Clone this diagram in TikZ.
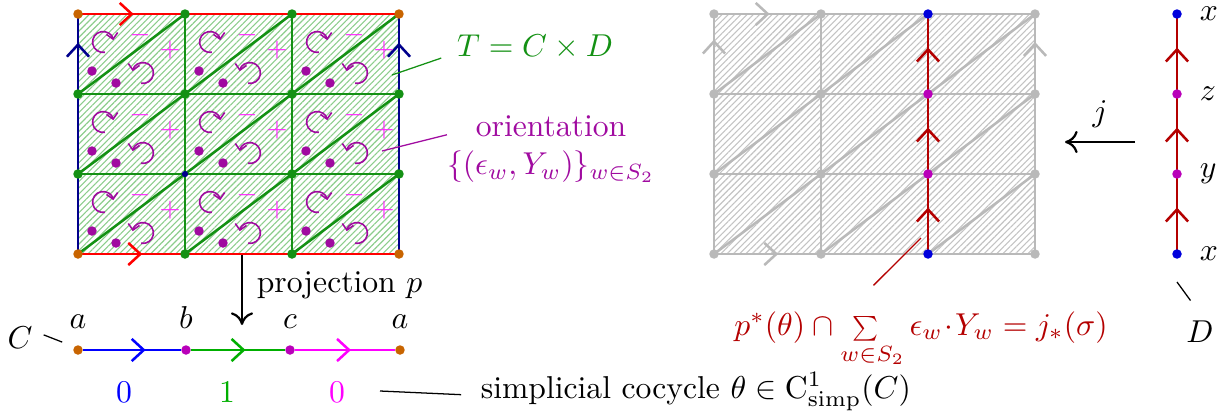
\documentclass[tikz,border=0pt]{standalone}
\usepackage{amsmath,amssymb}
\usetikzlibrary{arrows.meta,positioning,patterns.meta,decorations.markings}

\definecolor{vorange}{RGB}{200,100,0}
\definecolor{tgreen}{RGB}{20,145,20}
\definecolor{hatchgreen}{RGB}{140,205,140}
\definecolor{hatchgray}{RGB}{195,195,195}
\definecolor{navyb}{RGB}{0,0,140}
\definecolor{orient}{RGB}{160,10,160}
\definecolor{pm}{RGB}{255,40,255}
\definecolor{jred}{RGB}{180,0,0}
\definecolor{lgray}{RGB}{185,185,185}
\definecolor{dblue}{RGB}{0,0,220}
\definecolor{dpurple}{RGB}{185,0,185}
\definecolor{segblue}{RGB}{0,0,255}
\definecolor{seggreen}{RGB}{0,175,0}
\definecolor{segmag}{RGB}{255,0,255}

\tikzset{
  vtx/.style={circle,fill=#1,inner sep=0pt,minimum size=3pt},
  gline/.style={draw=#1,line width=0.8pt},
  barb/.style={postaction={decorate},decoration={markings,mark=at position #1 with {\arrow{Straight Barb[length=3.8pt,width=7pt]}}}},
  barb/.default=0.6,
  turn/.style={draw=orient,line width=0.5pt,-{Straight Barb[length=1.8pt,width=3.6pt]}},
  pmsign/.style={text=pm,font=\footnotesize,inner sep=0pt},
  leader/.style={line width=0.4pt},
  hatch/.style={pattern={Lines[angle=45,distance=1.4pt,line width=0.35pt]},pattern color=#1}
}

\begin{document}
\begin{tikzpicture}[x=0.316pt,y=0.316pt]
\useasboundingbox (0,0) rectangle (1225,417);

% grid points of T and of its image
\foreach \i in {0,...,3}
  \foreach \j in {0,...,3} {
    \coordinate (L-\i-\j) at ({78+107*\i},{403-80*\j});
    \coordinate (R-\i-\j) at ({714+107*\i},{403-80*\j});
  }
\foreach \j in {0,...,3}
  \coordinate (D-\j) at (1177,{403-80*\j});

\fill[hatch=hatchgreen] (L-0-3) rectangle (L-3-0);
\fill[hatch=hatchgray] (R-0-3) rectangle (R-3-0);

% diagonals of both tori
\foreach \i in {0,1,2}
  \foreach \j in {0,1,2} {
    \pgfmathtruncatemacro\ni{\i+1}
    \pgfmathtruncatemacro\nj{\j+1}
    \draw[gline=tgreen] (L-\i-\nj) -- (L-\ni-\j);
    \draw[gline=lgray] (R-\i-\nj) -- (R-\ni-\j);
  }

% left torus
\foreach \k in {1,2} {
  \draw[gline=tgreen] (L-\k-0) -- (L-\k-3);
  \draw[gline=tgreen] (L-0-\k) -- (L-3-\k);
}
\draw[gline=red,barb=0.52] (L-0-0) -- (L-1-0);
\draw[gline=red] (L-1-0) -- (L-3-0);
\draw[gline=red,barb=0.6] (L-0-3) -- (L-1-3);
\draw[gline=red] (L-1-3) -- (L-3-3);
\draw[gline=navyb,barb=0.64] (L-0-1) -- (L-0-0);
\draw[gline=navyb] (L-0-3) -- (L-0-1);
\draw[gline=navyb,barb=0.64] (L-3-1) -- (L-3-0);
\draw[gline=navyb] (L-3-3) -- (L-3-1);

% orientation of each triangle
\foreach \i in {0,1,2}
  \foreach \j in {0,1,2} {
    \begin{scope}[shift={(L-\i-\j)}]
      \draw[turn] (25,-28) ++(-80:3.3pt) arc[start angle=-80,end angle=-350,radius=3.3pt];
      \draw[turn] (65,-59) ++(-100:3.3pt) arc[start angle=-100,end angle=170,radius=3.3pt];
      \node[pmsign] (m-\i-\j) at (62,-21) {$-$};
      \node[pmsign] (p-\i-\j) at (92,-36) {$+$};
      \node[vtx=orient] (y-\i-\j) at (14,-57) {};
      \node[vtx=orient] (z-\i-\j) at (38,-69) {};
    \end{scope}
  }

\foreach \p in {1-0,2-0,0-1,1-1,2-1,3-1,0-2,2-2,3-2,1-3,2-3}
  \node[vtx=tgreen] (lv-\p) at (L-\p) {};
\foreach \p in {0-0,3-0,0-3,3-3}
  \node[vtx=vorange] (lv-\p) at (L-\p) {};
\node[vtx=navyb,minimum size=2pt] (lv-1-2) at (L-1-2) {};

% right torus
\draw[gline=lgray] (R-1-0) -- (R-1-3);
\foreach \k in {1,2}
  \draw[gline=lgray] (R-0-\k) -- (R-3-\k);
\draw[gline=lgray,barb=0.52] (R-0-0) -- (R-1-0);
\draw[gline=lgray] (R-1-0) -- (R-3-0);
\draw[gline=lgray,barb=0.6] (R-0-3) -- (R-1-3);
\draw[gline=lgray] (R-1-3) -- (R-3-3);
\draw[gline=lgray,barb=0.68] (R-0-1) -- (R-0-0);
\draw[gline=lgray] (R-0-3) -- (R-0-1);
\draw[gline=lgray,barb=0.65] (R-3-1) -- (R-3-0);
\draw[gline=lgray] (R-3-3) -- (R-3-1);
\foreach \j [evaluate=\j as \m using int(\j+1)] in {0,1,2} {
  \draw[gline=jred,barb=0.58] (R-2-\m) -- (R-2-\j);
  \draw[gline=jred,barb=0.58] (D-\m) -- (D-\j);
}

\foreach \i in {0,1,3}
  \foreach \j in {0,...,3}
    \node[vtx=lgray] (rv-\i-\j) at (R-\i-\j) {};
\node[vtx=dblue] (rv-2-0) at (R-2-0) {};
\node[vtx=dpurple] (rv-2-1) at (R-2-1) {};
\node[vtx=dpurple] (rv-2-2) at (R-2-2) {};
\node[vtx=dblue] (rv-2-3) at (R-2-3) {};

% the circle D
\node[vtx=dblue] (dv-0) at (D-0) {};
\node[vtx=dpurple] (dv-1) at (D-1) {};
\node[vtx=dpurple] (dv-2) at (D-2) {};
\node[vtx=dblue] (dv-3) at (D-3) {};
\node[right=2pt of dv-0] (dx-0) {$x$};
\node[right=2pt of dv-1] (dz) {$z$};
\node[right=2pt of dv-2] (dy) {$y$};
\node[right=2pt of dv-3] (dx-3) {$x$};
\node (Dlbl) at (1200,85) {$D$};
\coordinate (Dpt) at (1177,135);
\draw[leader] (Dpt) -- ([shift={(-3pt,3pt)}]Dlbl.north);

\coordinate (j-from) at (1135,275);
\coordinate (j-to) at (1065,275);
\draw[line width=0.7pt,-{To[length=4pt,width=7pt]}] (j-from) -- (j-to)
  node[midway,above=1pt] (jlbl) {$j$};

\node[text=jred,anchor=base,inner sep=1pt] (flbl) at (921,82)
  {$p^*(\theta)\cap\mathop{\scalebox{0.78}{$\sum$}}\limits_{w\in S_2}\epsilon_w\!\cdot\! Y_w=j_*(\sigma)$};
\coordinate (fpt) at (921,179);
\draw[jred,leader] (fpt) -- ([shift={(-15pt,7pt)}]flbl.north);

% labels of T
\node[text=tgreen] (Tlbl) at (535,370) {$T=C\times D$};
\coordinate (Tpt) at (392,342);
\draw[tgreen,leader] (Tpt) -- ([shift={(-1.5pt,-3.5pt)}]Tlbl.west);
\node[text=orient,align=center] (olbl) at (551,268)
  {orientation\\$\{(\epsilon_w,Y_w)\}_{w\in S_2}$};
\coordinate (opt) at (382,266);
\draw[orient,leader] (opt) -- ([shift={(3.5pt,4.5pt)}]olbl.west);

% projection onto C
\coordinate (prj-from) at (242,162);
\coordinate (prj-to) at (242,92);
\draw[line width=0.7pt,-{To[length=4pt,width=7pt]}] (prj-from) -- (prj-to)
  node[pos=0.43,right=1pt] (plbl) {projection $p$};

\node[vtx=vorange] (ca) at (78,67) {};
\node[vtx=dpurple] (cb) at (186,67) {};
\node[vtx=dpurple] (cc) at (290,67) {};
\node[vtx=vorange] (cd) at (400,67) {};
\draw[gline=segblue,barb=0.64] (ca) -- (cb);
\draw[gline=seggreen,barb=0.58] (cb) -- (cc);
\draw[gline=segmag,barb=0.56] (cc) -- (cd);
\node[above=1.5pt of ca] (la) {$a$};
\node[above=1.5pt of cb] (lb) {$b$};
\node[above=1.5pt of cc] (lc) {$c$};
\node[above=1.5pt of cd] (ld) {$a$};
\node (Clbl) at (20,79) {$C$};
\draw[leader] ([yshift=1pt]Clbl.east) -- ([shift={(-5pt,2.5pt)}]ca.center);

\node[text=segblue] (th-1) at (124,25) {$0$};
\node[text=seggreen] (th-2) at (227,25) {$1$};
\node[text=segmag] (th-3) at (337,25) {$0$};
\node[anchor=base west,inner sep=1pt] (cocyc) at (477,19)
  {simplicial cocycle $\theta\in\mathrm{C}^1_{\mathrm{simp}}(C)$};
\coordinate (cpt) at (380,26);
\draw[leader] (cpt) -- ([xshift=-5pt,yshift=-1pt]cocyc.west);
\end{tikzpicture}
\end{document}
